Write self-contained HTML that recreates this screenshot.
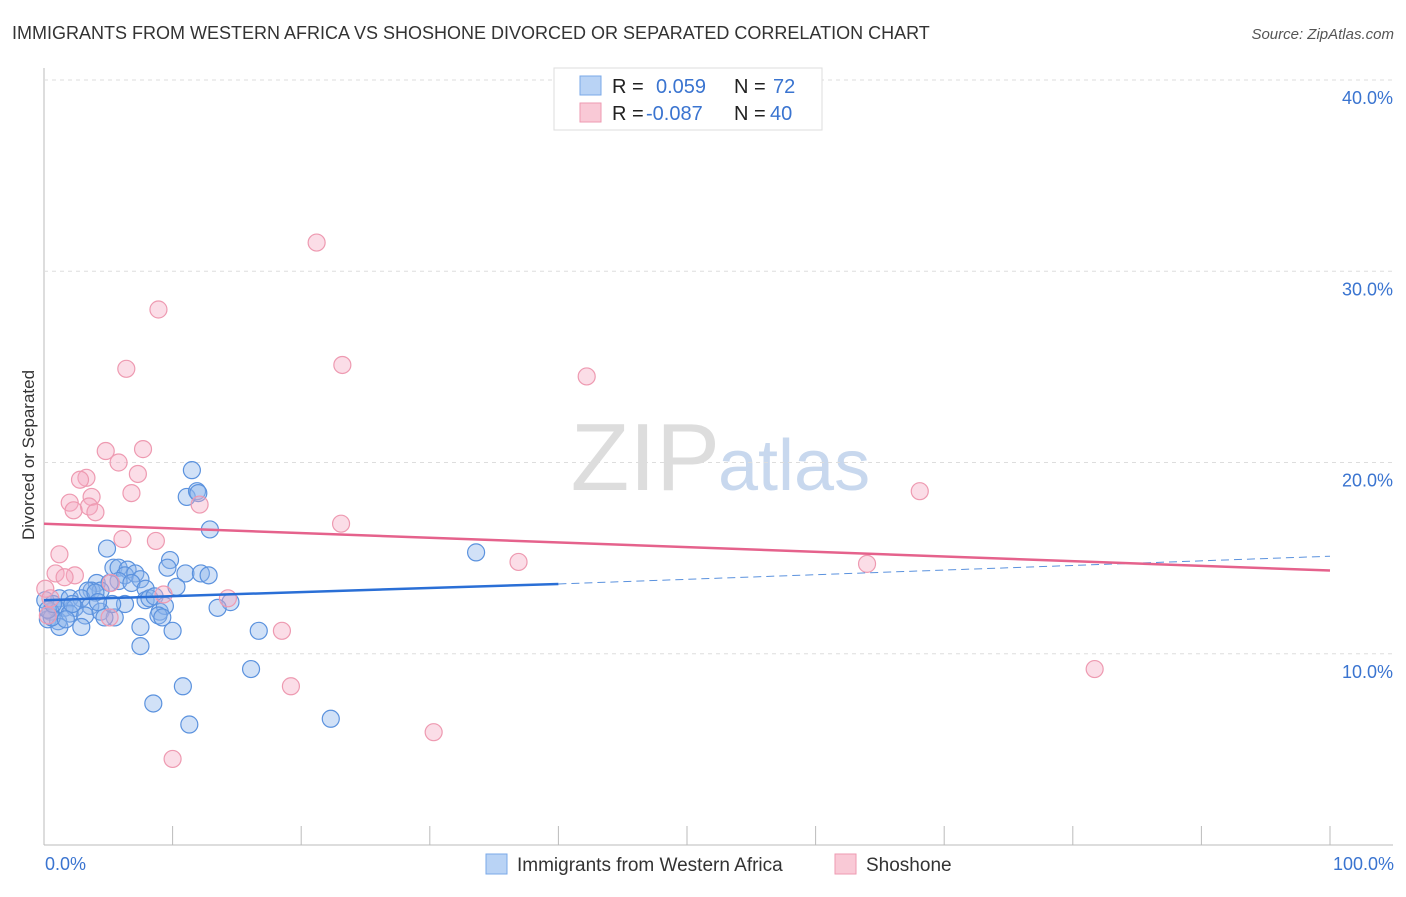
<!DOCTYPE html>
<html><head><meta charset="utf-8"><style>
body{margin:0;background:#fff;font-family:"Liberation Sans",sans-serif;}
svg text{font-family:"Liberation Sans",sans-serif;}
</style></head><body>
<svg id="c" width="1406" height="892">
<text x="12" y="39" font-size="18" fill="#333">IMMIGRANTS FROM WESTERN AFRICA VS SHOSHONE DIVORCED OR SEPARATED CORRELATION CHART</text>
<text x="1394" y="39" font-size="15" fill="#555" font-style="italic" text-anchor="end">Source: ZipAtlas.com</text>
<text x="34" y="455" font-size="17" fill="#333" text-anchor="middle" transform="rotate(-90 34 455)">Divorced or Separated</text>
<text x="720" y="490" font-size="96" fill="#ddd" text-anchor="end" font-family="Liberation Serif">ZIP</text>
<text x="718" y="490" font-size="72" fill="#c8d8ee">atlas</text>
<g id="grid"></g><g id="pts"></g><g id="lines"></g>
<g>
<rect x="554" y="68" width="268" height="62" fill="#fff" stroke="#ddd"/>
<rect x="580" y="76" width="21" height="19" fill="#b9d3f5" stroke="#7aa8e8"/>
<rect x="580" y="103" width="21" height="19" fill="#f9c9d6" stroke="#ee9ab1"/>
<text x="612" y="93" font-size="20" fill="#222">R =</text><text x="656" y="93" font-size="20" fill="#3a74d0">0.059</text>
<text x="734" y="93" font-size="20" fill="#222">N =</text><text x="773" y="93" font-size="20" fill="#3a74d0">72</text>
<text x="612" y="120" font-size="20" fill="#222">R =</text><text x="646" y="120" font-size="20" fill="#3a74d0">-0.087</text>
<text x="734" y="120" font-size="20" fill="#222">N =</text><text x="770" y="120" font-size="20" fill="#3a74d0">40</text>
</g>
<g>
<rect x="486" y="854" width="21" height="20" fill="#b9d3f5" stroke="#7aa8e8"/>
<text x="517" y="871" font-size="19" fill="#333">Immigrants from Western Africa</text>
<rect x="835" y="854" width="21" height="20" fill="#f9c9d6" stroke="#ee9ab1"/>
<text x="866" y="871" font-size="19" fill="#333">Shoshone</text>
</g>
<text x="45" y="870" font-size="18" fill="#3a74d0">0.0%</text>
<text x="1394" y="870" font-size="18" fill="#3a74d0" text-anchor="end">100.0%</text>
</svg>
<script>
const yTicks=[10,20,30,40];
const xTicks=[0,10,20,30,40,50,60,70,80,90,100];
const blueX=[11.5,11.1,11.9,12.0,12.9,4.9,9.8,9.6,11.0,12.2,12.8,5.4,5.8,6.5,6.3,7.1,7.5,5.8,6.8,4.1,5.1,3.7,4.4,7.9,10.3,1.2,3.4,2.0,2.9,4.0,0.9,1.6,2.4,3.6,6.3,7.9,8.2,8.6,9.0,9.4,14.5,13.5,0.5,0.3,1.1,2.0,3.2,4.4,5.5,4.7,7.5,8.9,9.2,10.0,1.2,0.6,2.9,16.7,7.5,16.1,10.8,8.5,11.3,22.3,33.6,0.1,0.3,0.7,2.2,5.3,4.2,1.7];
const blueY=[19.6,18.2,18.5,18.4,16.5,15.5,14.9,14.5,14.2,14.2,14.1,14.5,14.5,14.4,14.1,14.2,13.9,13.8,13.7,13.7,13.7,13.3,13.3,13.4,13.5,12.9,13.3,12.9,12.9,13.2,12.4,12.4,12.4,12.5,12.6,12.8,12.9,13.0,12.2,12.5,12.7,12.4,12.2,11.8,11.7,12.1,12.0,12.2,11.9,11.9,11.4,12.0,11.9,11.2,11.4,11.9,11.4,11.2,10.4,9.2,8.3,7.4,6.3,6.6,15.3,12.8,12.3,12.6,12.6,12.6,12.7,11.8];
const pinkX=[21.2,8.9,6.4,23.2,42.2,7.7,4.8,5.8,7.3,3.3,2.8,6.8,3.7,2.0,3.5,4.0,2.3,12.1,68.1,23.1,6.1,8.7,36.9,64.0,1.2,0.9,2.4,1.6,5.2,0.1,0.5,9.3,14.3,0.3,5.1,18.5,81.7,19.2,30.3,10.0];
const pinkY=[31.5,28.0,24.9,25.1,24.5,20.7,20.6,20.0,19.4,19.2,19.1,18.4,18.2,17.9,17.7,17.4,17.5,17.8,18.5,16.8,16.0,15.9,14.8,14.7,15.2,14.2,14.1,14.0,13.7,13.4,12.9,13.1,12.9,12.0,11.9,11.2,9.2,8.3,5.9,4.5];
const X0=44,X1=1330,Y0=845,Y1=80;
const sx=v=>X0+(X1-X0)*v/100, sy=v=>Y0-(Y0-Y1)*v/40;
const NS='http://www.w3.org/2000/svg';
function mk(tag,attrs,parent){const e=document.createElementNS(NS,tag);for(const k in attrs)e.setAttribute(k,attrs[k]);parent.appendChild(e);return e;}
const grid=document.getElementById('grid');
let ax=mk('line',{x1:X0,y1:68,x2:X0,y2:Y0,stroke:'#bbb'},grid);


let bx=mk('line',{x1:X0,y1:Y0,x2:1393,y2:Y0,stroke:'#bbb'},grid);


yTicks.forEach(t=>{
 let g=mk('line',{x1:X0,y1:sy(t),x2:1393,y2:sy(t),stroke:'#ddd','stroke-dasharray':'4,4'},grid);
 
 
 let tx=mk('text',{x:1393,y:sy(t)+24,'font-size':18,fill:'#3a74d0','text-anchor':'end'},grid);
 tx.textContent=t.toFixed(1)+'%';
 
 
});
xTicks.forEach(t=>{
 let l=mk('line',{x1:sx(t),y1:826,x2:sx(t),y2:Y0,stroke:'#bbb'},grid);
 
 
});
const pts=document.getElementById('pts');
blueX.forEach((v,i)=>{
 let c=mk('circle',{cx:sx(v),cy:sy(blueY[i]),r:8.5,fill:'rgba(140,180,235,0.4)',stroke:'#5b92de','stroke-width':1.2},pts);
 
 
});
pinkX.forEach((v,i)=>{
 let c=mk('circle',{cx:sx(v),cy:sy(pinkY[i]),r:8.5,fill:'rgba(245,170,195,0.4)',stroke:'#ee9ab1','stroke-width':1.2},pts);
 
 
});
const lines=document.getElementById('lines');
let b1=mk('line',{x1:sx(0),y1:sy(12.8),x2:sx(40),y2:sy(13.65),stroke:'#2a6fd6','stroke-width':2.5},lines);


let b2=mk('line',{x1:sx(40),y1:sy(13.65),x2:sx(100),y2:sy(15.1),stroke:'#5b92de','stroke-width':1,'stroke-dasharray':'8,5'},lines);


let p1=mk('line',{x1:sx(0),y1:sy(16.8),x2:sx(100),y2:sy(14.35),stroke:'#e5628c','stroke-width':2.5},lines);


</script>
</body></html>
